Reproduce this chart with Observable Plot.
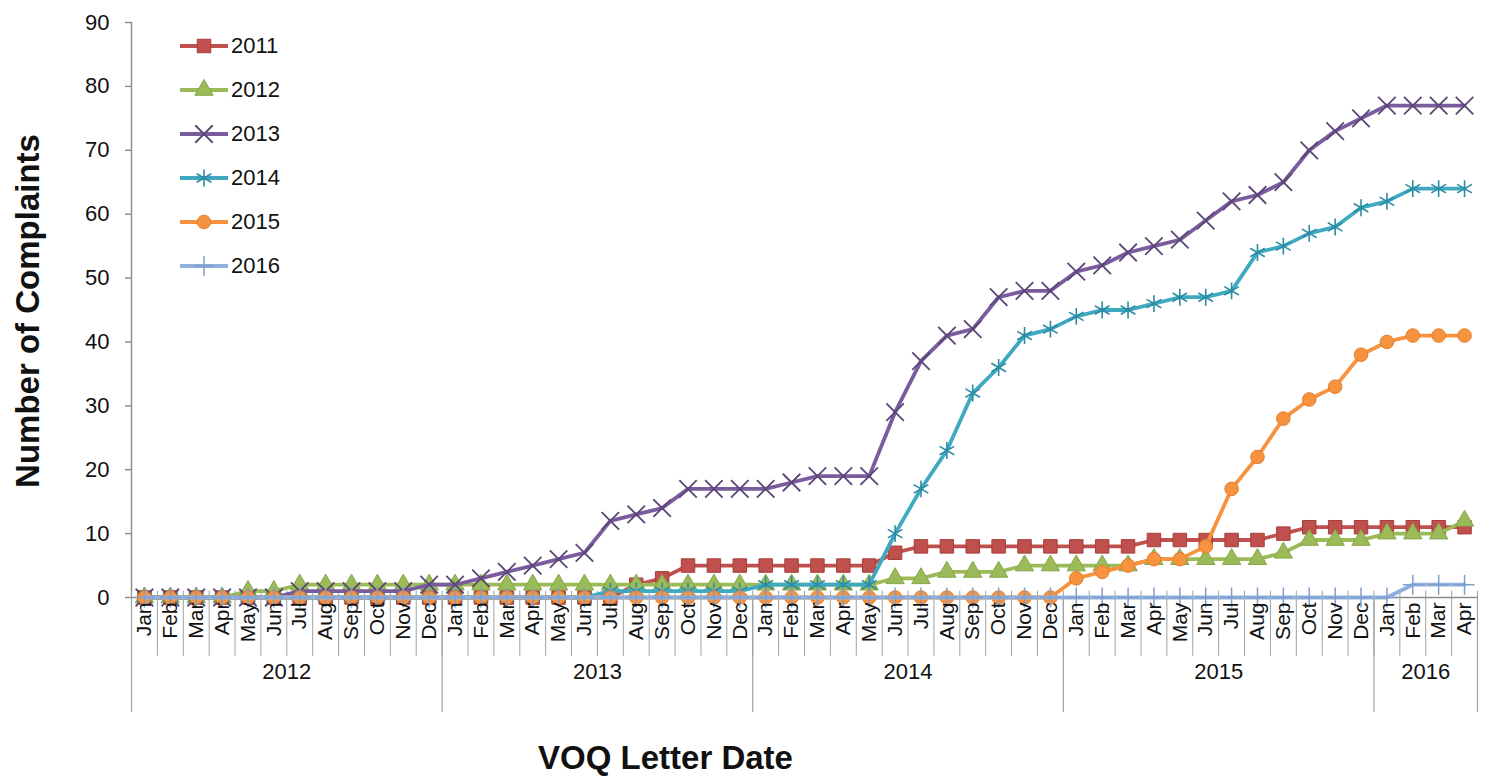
<!DOCTYPE html>
<html>
<head>
<meta charset="utf-8">
<script src="https://cdn.jsdelivr.net/npm/d3@7"></script>
<script src="https://cdn.jsdelivr.net/npm/@observablehq/plot@0.6"></script>
<style>
  html, body { margin: 0; padding: 0; background: #ffffff; }
  #wrap { position: relative; width: 1496px; height: 777px; font-family: "Liberation Sans", Arial, sans-serif; }
  #legend { position: absolute; left: 178px; top: 24px; }
  .item { display: flex; align-items: center; height: 44px; font-size: 22px; color: #111; }
  .item svg { display: block; margin-right: 1px; }
</style>
</head>
<body>
<div id="wrap">
  <div id="chart"></div>
  <div id="legend"></div>
</div>
<script>
// ---- Data ----
const monthNames = ["Jan","Feb","Mar","Apr","May","Jun","Jul","Aug","Sep","Oct","Nov","Dec"];
const years = [2012, 2013, 2014, 2015, 2016];
const monthsPerYear = [12, 12, 12, 12, 4];
const yTicks = [0, 10, 20, 30, 40, 50, 60, 70, 80, 90];

const seriesNames = ["2011", "2012", "2013", "2014", "2015", "2016"];

const v2011 = [
  0,0,0,0,0,0,0,0,0,0,0,0,
  0,0,0,0,0,0,0,2,3,5,5,5,
  5,5,5,5,5,7,8,8,8,8,8,8,
  8,8,8,9,9,9,9,9,10,11,11,11,
  11,11,11,11
];
const v2012 = [
  0,0,0,0,1,1,2,2,2,2,2,2,
  2,2,2,2,2,2,2,2,2,2,2,2,
  2,2,2,2,2,3,3,4,4,4,5,5,
  5,5,5,6,6,6,6,6,7,9,9,9,
  10,10,10,12
];
const v2013 = [
  0,0,0,0,0,0,1,1,1,1,1,2,
  2,3,4,5,6,7,12,13,14,17,17,17,
  17,18,19,19,19,29,37,41,42,47,48,48,
  51,52,54,55,56,59,62,63,65,70,73,75,
  77,77,77,77
];
const v2014 = [
  0,0,0,0,0,0,0,0,0,0,0,0,
  0,0,0,0,0,0,1,1,1,1,1,1,
  2,2,2,2,2,10,17,23,32,36,41,42,
  44,45,45,46,47,47,48,54,55,57,58,61,
  62,64,64,64
];
const v2015 = [
  0,0,0,0,0,0,0,0,0,0,0,0,
  0,0,0,0,0,0,0,0,0,0,0,0,
  0,0,0,0,0,0,0,0,0,0,0,0,
  3,4,5,6,6,8,17,22,28,31,33,38,
  40,41,41,41
];
const v2016 = [
  0,0,0,0,0,0,0,0,0,0,0,0,
  0,0,0,0,0,0,0,0,0,0,0,0,
  0,0,0,0,0,0,0,0,0,0,0,0,
  0,0,0,0,0,0,0,0,0,0,0,0,
  0,2,2,2
];
const seriesValues = [v2011, v2012, v2013, v2014, v2015, v2016];

// ---- Styles ----
const styles = [
  {line: "#C0504D", symbol: "square",   fill: "#C0504D", stroke: "#A53E3B", r: 7.6, sw: 1},
  {line: "#9BBB59", symbol: "triangle", fill: "#9BBB59", stroke: "#86A548", r: 6.8, sw: 1},
  {line: "#7A5C9E", symbol: "times",    fill: "none",    stroke: "#5A4676", r: 8,   sw: 1.8},
  {line: "#3FA9C2", symbol: "asterisk", fill: "none",    stroke: "#2B8CA3", r: 8,   sw: 1.6},
  {line: "#F7923F", symbol: "circle",   fill: "#F7923F", stroke: "#E07F2E", r: 6.8, sw: 1},
  {line: "#8FB0DC", symbol: "plus",     fill: "none",    stroke: "#7F9FCC", r: 6.5, sw: 1.5}
];

// ---- Derived tables ----
const categories = [];
years.forEach((y, yi) => {
  for (let m = 0; m < monthsPerYear[yi]; m++) categories.push({year: y, month: monthNames[m]});
});
const idx = categories.map((_, i) => i);
const boundaries = d3.range(categories.length + 1).map(k => k - 0.5);
const yearBounds = [];
const yearMid = [];
{
  let start = 0;
  years.forEach((y, yi) => {
    yearBounds.push(start - 0.5);
    yearMid.push({year: String(y), i: start + (monthsPerYear[yi] - 1) / 2});
    start += monthsPerYear[yi];
  });
  yearBounds.push(start - 0.5);
}
const x0 = -0.5;

const marks = [];
// axis lines
marks.push(Plot.ruleX([x0], {y1: 0, y2: 90, stroke: "#8a8a8a", strokeWidth: 1.4}));
marks.push(Plot.ruleY([0], {x1: x0, x2: categories.length - 0.5, stroke: "#8a8a8a", strokeWidth: 1.4}));
// y tick marks
marks.push(Plot.axisY(yTicks, {anchor: "left", tickSize: 6, tickFormat: () => "", stroke: "#8a8a8a",
  strokeWidth: 1.4, label: null}));
// month separators and year separators
marks.push(Plot.ruleX(boundaries, {y1: 1, y2: -9.2, stroke: "#a0a0a0", strokeWidth: 1}));
marks.push(Plot.ruleX(yearBounds, {y1: 0, y2: -18, stroke: "#a0a0a0", strokeWidth: 1.2}));

seriesValues.forEach((vals, s) => {
  const st = styles[s];
  const rows = vals.map((v, i) => ({i, v}));
  marks.push(Plot.line(rows, {x: "i", y: "v", stroke: st.line, strokeWidth: 3.8, strokeLinejoin: "round"}));
  marks.push(Plot.dot(rows, {x: "i", y: "v", symbol: () => st.symbol, r: st.r,
    fill: st.fill, stroke: st.stroke, strokeWidth: st.sw}));
});

// tick labels
marks.push(Plot.text(yTicks, {x: () => x0, y: d => d, text: d => String(d), textAnchor: "end", dx: -22,
  fontSize: 22, fill: "#111"}));
marks.push(Plot.text(idx, {x: d => d, y: () => 0, text: i => categories[i].month, rotate: -90,
  textAnchor: "end", dy: 5, fontSize: 21, fill: "#111"}));
marks.push(Plot.text(yearMid, {x: "i", y: () => -11.6, text: "year", fontSize: 22, fill: "#111"}));

// axis titles
marks.push(Plot.text(["Number of Complaints"], {frameAnchor: "left", textAnchor: "middle", lineAnchor: "middle",
  dx: -103, dy: 1, rotate: -90, fontSize: 33, fontWeight: "bold", fill: "#111"}));
marks.push(Plot.text(["VOQ Letter Date"], {frameAnchor: "bottom", dx: -139, dy: 171,
  fontSize: 33, fontWeight: "bold", fill: "#111"}));

const chart = Plot.plot({
  width: 1496,
  height: 777,
  marginLeft: 131,
  marginRight: 19,
  marginTop: 22,
  marginBottom: 180,
  style: {fontFamily: "'Liberation Sans', Arial, sans-serif", background: "#ffffff", overflow: "visible"},
  x: {type: "linear", domain: [-0.5, categories.length - 0.5], axis: null},
  y: {type: "linear", domain: [0, 90], axis: null},
  marks
});
document.getElementById("chart").appendChild(chart);

// ---- Legend ----
const legend = d3.select("#legend");
const symMap = {square: d3.symbolSquare, triangle: d3.symbolTriangle, times: d3.symbolTimes,
  asterisk: d3.symbolAsterisk, circle: d3.symbolCircle, plus: d3.symbolPlus};
seriesNames.forEach((name, s) => {
  const st = styles[s];
  const item = legend.append("div").attr("class", "item");
  const svg = item.append("svg").attr("width", 52).attr("height", 22);
  svg.append("line").attr("x1", 2).attr("x2", 50).attr("y1", 11).attr("y2", 11)
    .attr("stroke", st.line).attr("stroke-width", 3.8);
  svg.append("path").attr("transform", "translate(26,11)")
    .attr("d", d3.symbol(symMap[st.symbol], Math.PI * st.r * st.r)())
    .attr("fill", st.fill).attr("stroke", st.stroke).attr("stroke-width", st.sw);
  item.append("span").text(name);
});
</script>
</body>
</html>
